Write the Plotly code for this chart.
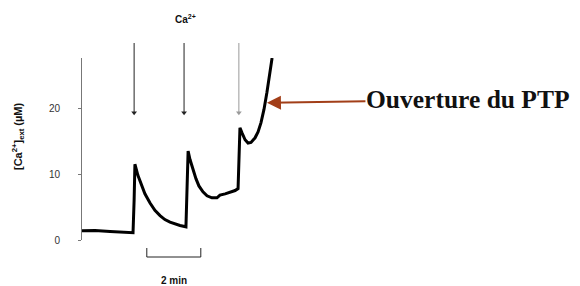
import plotly.graph_objects as go

# ---- data (time in min, external Ca2+ in µM) ----
time_min = [0.00, 0.48, 1.04, 1.59, 1.89, 1.93, 1.96, 2.07, 2.19, 2.33, 2.52, 2.70, 2.89,
            3.07, 3.26, 3.44, 3.63, 3.85, 3.89, 3.93, 4.00, 4.11, 4.22, 4.33, 4.48, 4.63,
            4.81, 5.00, 5.11, 5.30, 5.48, 5.67, 5.78, 5.81, 5.85, 5.93, 6.04, 6.15, 6.26,
            6.41, 6.52, 6.63, 6.74, 6.85, 6.96, 7.04]
ca_ext = [1.4, 1.45, 1.3, 1.2, 1.1, 6.0, 11.5, 9.8, 8.4, 7.0, 5.6, 4.5, 3.7,
          3.1, 2.7, 2.4, 2.2, 2.0, 8.0, 13.5, 12.2, 10.7, 9.3, 8.2, 7.3, 6.7,
          6.4, 6.4, 6.8, 7.0, 7.2, 7.5, 7.8, 12.0, 17.0, 16.2, 15.2, 14.7, 14.8,
          15.5, 16.4, 17.8, 19.8, 22.4, 25.2, 27.6]
ca_additions_min = [1.93, 3.78, 5.81]
addition_colors = ["#222222", "#222222", "#9a9a9a"]
arrow_tip_level = 19.3
ytick_vals = [0, 10, 20]
scale_bar_start = 2.4
scale_bar_len = 2.0
scale_bar_label = "2 min"
ptp_time = 6.85
ptp_value = 20.8

# page body has an 8 px margin -> figure is 8 px smaller, reference px map the same
W, H = 572, 278
ml, mr, mt, mb = 74, 0, 50, 46
x_range = [0, (W - ml - mr) / 27.0]
y_range = [0, 27.6]

def py(p):  # reference pixel row -> paper y
    return (240 - p) / (H - mt - mb)

def px(p):  # reference pixel column -> paper x
    return (p - 82) / (W - ml - mr)

fig = go.Figure()
fig.add_trace(go.Scatter(
    x=time_min, y=ca_ext, mode="lines",
    line=dict(color="black", width=3), cliponaxis=False, showlegend=False,
    hoverinfo="skip"))

# Ca2+ addition arrows: shafts as shapes, heads as markers
for t, c in zip(ca_additions_min, addition_colors):
    fig.add_shape(type="line", xref="x", yref="paper", x0=t, x1=t,
                  y0=py(43), y1=py(112), line=dict(color=c, width=1))
fig.add_trace(go.Scatter(
    x=ca_additions_min, y=[arrow_tip_level] * len(ca_additions_min), mode="markers",
    marker=dict(symbol="triangle-down", size=5, color=addition_colors, line=dict(width=0)),
    cliponaxis=False, showlegend=False, hoverinfo="skip"))

fig.update_layout(
    width=W, height=H, margin=dict(l=ml, r=mr, t=mt, b=mb),
    paper_bgcolor="white", plot_bgcolor="white",
    font=dict(family="Liberation Sans, Arial, sans-serif", color="#222"),
    xaxis=dict(range=x_range, visible=False, fixedrange=True),
    yaxis=dict(range=y_range, showgrid=False, zeroline=False, showline=True,
               linecolor="#777", linewidth=1, ticks="outside", ticklen=3,
               tickcolor="#777", tickvals=ytick_vals,
               tickfont=dict(size=10, color="#333"), ticklabelstandoff=16,
               fixedrange=True),
)

fig.add_annotation(x=px(185), y=py(19), xref="paper", yref="paper",
                   xanchor="center", yanchor="middle",
                   text="<b>Ca<sup>2+</sup></b>", showarrow=False,
                   font=dict(size=10, color="#111"))

# y-axis title
fig.add_annotation(x=px(18), y=py(136), xref="paper", yref="paper",
                   xanchor="center", yanchor="middle",
                   text="<b>[Ca<sup>2+</sup>]<sub>ext</sub> (µM)</b>", textangle=-90,
                   showarrow=False, font=dict(size=11, color="#111"))

# scale bar
fig.add_shape(type="path", xref="x", yref="paper",
              path=(f"M {scale_bar_start},{py(248)} L {scale_bar_start},{py(257)} "
                    f"L {scale_bar_start + scale_bar_len},{py(257)} "
                    f"L {scale_bar_start + scale_bar_len},{py(248)}"),
              line=dict(color="#222", width=1))
fig.add_annotation(x=scale_bar_start + scale_bar_len / 2, y=py(280),
                   xref="x", yref="paper", xanchor="center", yanchor="middle",
                   text=f"<b>{scale_bar_label}</b>",
                   showarrow=False, font=dict(size=10, color="#111"))

# PTP opening label with arrow pointing at the trace
fig.add_annotation(x=ptp_time, y=ptp_value, xref="x", yref="y",
                   text="<b>Ouverture du PTP</b>", showarrow=True,
                   xanchor="center", yanchor="middle",
                   ax=201, ay=-3, arrowhead=2, arrowsize=1.4, arrowwidth=2,
                   arrowcolor="#A23E18", borderpad=0,
                   font=dict(family="Liberation Serif, Times New Roman, serif", size=25.5,
                             color="#111"))

fig.write_html("out.html")
